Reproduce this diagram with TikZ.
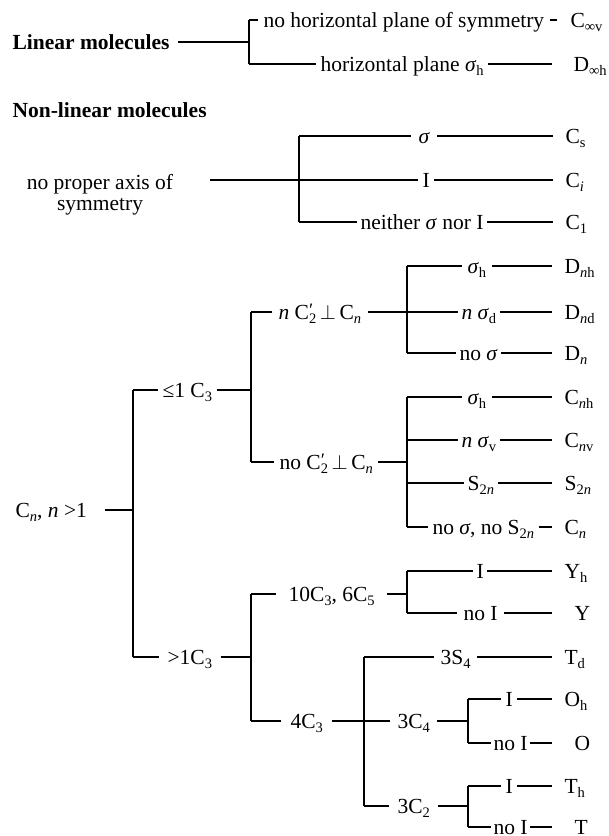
\documentclass[tikz,border=0pt]{standalone}
\usepackage{fontspec}
\setmainfont{Liberation Serif}
% lowered small text for subscripts
\newcommand\sbs[1]{\raisebox{-0.22em}{\fontsize{14.5}{14.5}\selectfont #1}}
% prime standing over a subscript
\newcommand\prm{\makebox[0pt][l]{\raisebox{0.12em}{\fontsize{19}{19}\selectfont ′}}}
\newcommand\sig{\textit{σ}}
\newcommand\ital[1]{\textit{#1}}
\begin{document}
\begin{tikzpicture}[x=1pt,y=-1pt,line width=1.1pt,
  font=\fontsize{21.5}{21}\selectfont,
  lb/.style={anchor=west,inner xsep=#1,inner ysep=0pt,xshift=-#1,
             text height=17pt,text depth=3pt},
  lb/.default=4pt]
\useasboundingbox (0,0) rectangle (609,836);

% ---------- linear molecules ----------
\node[lb=8pt] (lin) at (12,42) {\textbf{Linear molecules}};
\coordinate (a1) at (249,20);
\coordinate (a2) at (249,42);
\coordinate (a3) at (249,64);
\node[lb=5pt] (nh) at (263,20) {no horizontal plane of symmetry};
\node[lb=13pt] (Cv) at (570,20) {C\sbs{∞v}};
\node[lb] (hp) at (320,64) {horizontal plane \sig\sbs{h}};
\node[lb=21pt] (Dh) at (573,64) {D\sbs{∞h}};
\draw (lin) -- (a2);
\draw (a1) -- (a3);
\draw (a1) -- (nh) -- (Cv);
\draw (a3) -- (hp) -- (Dh);

% ---------- non-linear molecules ----------
\node[lb] (nl) at (12,110) {\textbf{Non-linear molecules}};

% no proper axis
\node[align=center,inner sep=0pt] (nax) at (100,195) {no proper axis of\\symmetry};
\coordinate (na) at (210,180);
\coordinate (b1) at (299,136);
\coordinate (b2) at (299,222);
\node[lb=7pt] (sg) at (418,136) {\sig};
\node[lb=12pt] (Cs) at (565,136) {C\sbs{s}};
\node[lb] (sI) at (422,180) {I};
\node[lb=12pt] (Ci) at (565,180) {C\sbs{\ital{i}}};
\node[lb=3pt] (nei) at (360,222) {neither \sig\ nor I};
\node[lb=12pt] (C1) at (565,222) {C\sbs{1}};
\draw (b1) -- (b2);
\draw (b1) -- (sg) -- (Cs);
\draw (na) -- (sI) -- (Ci);
\draw (b2) -- (nei) -- (C1);

% proper axis Cn
\node[lb=18pt] (cn) at (15,510) {C\sbs{\ital{n}}, \ital{n} >1};
\coordinate (c1) at (133,390);
\coordinate (c2) at (133,510);
\coordinate (c3) at (133,657);
\draw (c1) -- (c3);
\draw (cn) -- (c2);
\node[lb=4pt] (le) at (162,390) {≤1 C\sbs{3}};
\node[lb=8pt] (gt) at (167,657) {>1C\sbs{3}};
\coordinate (d1) at (251,312);
\coordinate (d2) at (251,390);
\coordinate (d3) at (251,462);
\coordinate (e1) at (251,594);
\coordinate (e2) at (251,657);
\coordinate (e3) at (251,721);
\draw (c1) -- (le) -- (d2);
\draw (c3) -- (gt) -- (e2);
\draw (d1) -- (d3);
\draw (e1) -- (e3);

% at most one C3: dihedral groups
\node[lb=6pt] (nc) at (278,312) {\ital{n} C\prm\sbs{2}\,$\perp$\,C\sbs{\ital{n}}};
\coordinate (f1) at (407,266);
\coordinate (f2) at (407,353);
\node[lb=5pt] (sh1) at (467,266) {\sig\sbs{h}};
\node[lb=3pt] (nsd) at (461,312) {\ital{n} \sig\sbs{d}};
\node[lb=3pt] (nos) at (459,353) {no \sig};
\node[lb=12pt] (Dnh) at (564,266) {D\sbs{\ital{n}h}};
\node[lb=12pt] (Dnd) at (564,312) {D\sbs{\ital{n}d}};
\node[lb=12pt] (Dn) at (564,353) {D\sbs{\ital{n}}};
\draw (d1) -- (nc);
\draw (f1) -- (f2);
\draw (f1) -- (sh1) -- (Dnh);
\draw (nc) -- (nsd) -- (Dnd);
\draw (f2) -- (nos) -- (Dn);

% at most one C3: cyclic groups
\node[lb=5pt] (noc) at (279,462) {no C\prm\sbs{2}\,$\perp$\,C\sbs{\ital{n}}};
\coordinate (g1) at (407,397);
\coordinate (g2) at (407,440);
\coordinate (g3) at (407,462);
\coordinate (g4) at (407,483);
\coordinate (g5) at (407,527);
\node[lb=5pt] (sh2) at (467,397) {\sig\sbs{h}};
\node[lb=3pt] (nsv) at (461,440) {\ital{n} \sig\sbs{v}};
\node[lb=3pt] (s2) at (467,483) {S\sbs{2\ital{n}}};
\node[lb=4pt] (nosn) at (432,527) {no \sig, no S\sbs{2\ital{n}}};
\node[lb=12pt] (Cnh) at (564,397) {C\sbs{\ital{n}h}};
\node[lb=12pt] (Cnv) at (564,440) {C\sbs{\ital{n}v}};
\node[lb=12pt] (S2n) at (564,483) {S\sbs{2\ital{n}}};
\node[lb=12pt] (Cn) at (564,527) {C\sbs{\ital{n}}};
\draw (d3) -- (noc) -- (g3);
\draw (g1) -- (g5);
\draw (g1) -- (sh2) -- (Cnh);
\draw (g2) -- (nsv) -- (Cnv);
\draw (g4) -- (s2) -- (S2n);
\draw (g5) -- (nosn) -- (Cn);

% more than one C3: icosahedral groups
\node[lb=12pt] (ten) at (288,594) {10C\sbs{3}, 6C\sbs{5}};
\coordinate (h1) at (407,571);
\coordinate (h2) at (407,594);
\coordinate (h3) at (407,613);
\node[lb=3pt] (yI) at (476,571) {I};
\node[lb=6pt] (ynI) at (463,613) {no I};
\node[lb=12pt] (Yh) at (564,571) {Y\sbs{h}};
\node[lb=22pt] (Y) at (574,613) {Y};
\draw (e1) -- (ten) -- (h2);
\draw (h1) -- (h3);
\draw (h1) -- (yI) -- (Yh);
\draw (h3) -- (ynI) -- (Y);

% more than one C3: cubic groups
\node[lb=9pt] (fc) at (290,721) {4C\sbs{3}};
\coordinate (k1) at (364,657);
\coordinate (k2) at (364,806);
\node[lb=6pt] (s4) at (440,657) {3S\sbs{4}};
\node[lb=12pt] (Td) at (564,657) {T\sbs{d}};
\node[lb=7pt] (c4) at (397,721) {3C\sbs{4}};
\node[lb=8pt] (c2n) at (397,806) {3C\sbs{2}};
\draw (e3) -- (fc) -- (c4);
\draw (k1) -- (k2);
\draw (k1) -- (s4) -- (Td);
\draw (k2) -- (c2n);

% octahedral
\coordinate (m1) at (468,699);
\coordinate (m2) at (468,721);
\coordinate (m3) at (468,743);
\node[lb=4pt] (oI) at (505,699) {I};
\node[lb=2pt] (onI) at (493,743) {no I};
\node[lb=12pt] (Oh) at (564,699) {O\sbs{h}};
\node[lb=22pt] (O) at (574,743) {O};
\draw (c4) -- (m2);
\draw (m1) -- (m3);
\draw (m1) -- (oI) -- (Oh);
\draw (m3) -- (onI) -- (O);

% tetrahedral
\coordinate (p1) at (468,786);
\coordinate (p2) at (468,806);
\coordinate (p3) at (468,827);
\node[lb=4pt] (tI) at (505,786) {I};
\node[lb=2pt] (tnI) at (493,827) {no I};
\node[lb=12pt] (Th) at (564,786) {T\sbs{h}};
\node[lb=22pt] (T) at (574,827) {T};
\draw (c2n) -- (p2);
\draw (p1) -- (p3);
\draw (p1) -- (tI) -- (Th);
\draw (p3) -- (tnI) -- (T);
\end{tikzpicture}
\end{document}
